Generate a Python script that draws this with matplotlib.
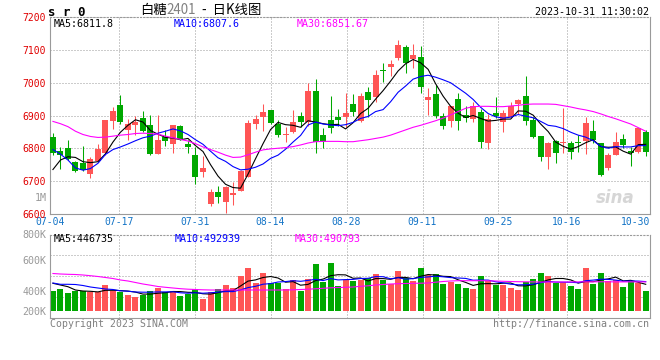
import numpy as np
import matplotlib.pyplot as plt

W, H = 660, 360
plt.rcParams['font.family'] = ['DejaVu Sans Mono', 'Noto Sans CJK SC']
CJK = ['Noto Sans CJK SC', 'DejaVu Sans']

# daily candles sr0, 2023-07-04 .. 2023-10-31
opens = [6833, 6791, 6800, 6758, 6756, 6721, 6761, 6784, 6884, 6932,
         6855, 6870, 6891, 6871, 6782, 6835, 6813, 6868, 6813, 6779,
         6728, 6630, 6666, 6636, 6657, 6669, 6713, 6873, 6896, 6916,
         6875, 6840, 6850, 6898, 6879, 6975, 6840, 6886, 6896, 6896,
         6935, 6884, 6973, 6957, 7039, 7047, 7077, 7110, 7072, 7080,
         6947, 6966, 6898, 6884, 6950, 6901, 6889, 6912, 6817, 6909,
         6879, 6894, 6935, 6960, 6886, 6837, 6774, 6823, 6815, 6815,
         6820, 6823, 6852, 6815, 6740, 6780, 6828, 6793, 6790, 6850]
highs = [6847, 6805, 6825, 6760, 6807, 6774, 6813, 6886, 6927, 6963,
         6888, 6897, 6913, 6901, 6901, 6855, 6871, 6871, 6825, 6805,
         6776, 6675, 6686, 6686, 6697, 6733, 6886, 6901, 6935, 6916,
         6886, 6865, 6916, 6911, 6998, 7011, 6863, 6960, 6919, 6969,
         6965, 6970, 6988, 7039, 7059, 7069, 7130, 7115, 7117, 7112,
         6983, 6993, 6907, 6930, 6968, 6929, 6942, 6920, 6905, 6957,
         6917, 6942, 6950, 7020, 6896, 6837, 6818, 6825, 6924, 6821,
         6840, 6896, 6886, 6816, 6787, 6851, 6845, 6805, 6862, 6855]
lows = [6779, 6736, 6765, 6727, 6732, 6710, 6759, 6779, 6860, 6874,
        6825, 6840, 6850, 6779, 6782, 6808, 6784, 6825, 6784, 6690,
        6711, 6624, 6633, 6601, 6626, 6669, 6713, 6858, 6853, 6875,
        6835, 6820, 6847, 6865, 6867, 6784, 6802, 6848, 6867, 6865,
        6899, 6881, 6894, 6942, 7003, 7021, 7069, 7031, 7044, 6970,
        6902, 6891, 6859, 6866, 6856, 6881, 6881, 6800, 6799, 6891,
        6851, 6891, 6906, 6871, 6830, 6762, 6738, 6754, 6784, 6766,
        6790, 6781, 6815, 6716, 6735, 6780, 6800, 6746, 6784, 6775]
closes = [6784, 6778, 6768, 6731, 6735, 6766, 6797, 6886, 6913, 6881,
          6874, 6881, 6853, 6782, 6825, 6823, 6871, 6827, 6804, 6713,
          6740, 6665, 6652, 6681, 6664, 6730, 6878, 6889, 6911, 6878,
          6840, 6842, 6881, 6881, 6975, 6820, 6820, 6863, 6886, 6908,
          6912, 6959, 6947, 7024, 7037, 7057, 7115, 7059, 7085, 6988,
          6957, 6898, 6869, 6929, 6884, 6891, 6929, 6820, 6889, 6898,
          6909, 6929, 6947, 6884, 6835, 6774, 6817, 6784, 6820, 6790,
          6815, 6878, 6825, 6718, 6780, 6820, 6810, 6784, 6861, 6790]

ma5 = [6735, 6764, 6774, 6772, 6759, 6756, 6759, 6783, 6819, 6849,
       6870, 6887, 6880, 6854, 6843, 6833, 6831, 6826, 6830, 6808,
       6790, 6750, 6715, 6690, 6680, 6678, 6721, 6768, 6814, 6857,
       6879, 6872, 6870, 6864, 6884, 6880, 6875, 6872, 6873, 6859,
       6878, 6906, 6922, 6950, 6976, 7005, 7036, 7058, 7071, 7061,
       7041, 6997, 6959, 6928, 6907, 6894, 6900, 6891, 6883, 6885,
       6889, 6889, 6914, 6913, 6901, 6874, 6851, 6819, 6806, 6797,
       6805, 6817, 6826, 6805, 6803, 6804, 6791, 6782, 6811, 6812]
ma10 = [6796, 6782, 6764, 6740, 6733, 6738, 6754, 6781, 6796, 6804,
        6813, 6823, 6832, 6837, 6846, 6852, 6859, 6853, 6842, 6826,
        6812, 6791, 6771, 6760, 6744, 6734, 6736, 6742, 6752, 6769,
        6779, 6797, 6819, 6839, 6871, 6880, 6874, 6871, 6869, 6872,
        6879, 6891, 6897, 6912, 6918, 6942, 6971, 6990, 7011, 7019,
        7023, 7017, 7009, 7000, 6984, 6968, 6949, 6925, 6906, 6896,
        6892, 6895, 6903, 6898, 6893, 6882, 6870, 6867, 6860, 6849,
        6840, 6834, 6823, 6806, 6800, 6805, 6804, 6804, 6808, 6808]
ma30 = [6882, 6875, 6866, 6852, 6842, 6836, 6833, 6834, 6837, 6840,
        6842, 6845, 6846, 6845, 6843, 6837, 6832, 6827, 6822, 6814,
        6804, 6796, 6788, 6779, 6772, 6773, 6780, 6788, 6795, 6798,
        6800, 6802, 6805, 6810, 6816, 6820, 6821, 6821, 6821, 6820,
        6820, 6823, 6826, 6830, 6834, 6840, 6848, 6856, 6864, 6870,
        6877, 6884, 6892, 6902, 6912, 6922, 6927, 6928, 6928, 6927,
        6927, 6929, 6931, 6934, 6935, 6935, 6935, 6934, 6930, 6926,
        6921, 6917, 6912, 6905, 6897, 6890, 6882, 6874, 6863, 6852]

# volume, thousands of lots
vol = [400, 420, 380, 400, 400, 387, 387, 460, 400, 387,
       360, 340, 360, 400, 430, 387, 400, 353, 367, 420,
       320, 387, 420, 460, 430, 553, 630, 480, 580, 480,
       480, 420, 510, 400, 520, 670, 493, 680, 450, 510,
       503, 507, 530, 570, 510, 470, 600, 530, 503, 630,
       560, 570, 470, 490, 470, 430, 420, 550, 500, 460,
       460, 430, 410, 493, 520, 580, 553, 480, 493, 450,
       420, 630, 470, 580, 503, 510, 440, 500, 483, 400]
vma5 = [477, 460, 443, 410, 400, 397, 391, 407, 407, 404,
        399, 389, 369, 369, 378, 383, 395, 394, 387, 385,
        372, 369, 383, 401, 403, 450, 499, 511, 535, 545,
        530, 488, 494, 458, 466, 504, 519, 553, 563, 561,
        527, 530, 500, 524, 524, 517, 536, 536, 523, 547,
        565, 559, 547, 544, 512, 486, 456, 472, 474, 472,
        478, 480, 452, 451, 463, 487, 511, 525, 525, 511,
        479, 495, 493, 510, 521, 539, 501, 507, 487, 467]
vma10 = [480, 467, 467, 465, 455, 440, 430, 420, 415, 402,
         398, 390, 388, 388, 391, 391, 392, 382, 378, 382,
         378, 382, 389, 394, 394, 411, 434, 447, 468, 474,
         490, 494, 503, 497, 506, 517, 504, 524, 511, 514,
         516, 525, 527, 544, 543, 522, 533, 518, 524, 536,
         541, 548, 542, 534, 530, 526, 508, 510, 509, 492,
         482, 468, 462, 463, 468, 483, 496, 489, 488, 487,
         483, 503, 509, 518, 516, 509, 498, 500, 499, 494]
vma30 = [575, 570, 567, 565, 560, 553, 545, 535, 525, 510,
         500, 485, 470, 458, 445, 437, 430, 423, 418, 415,
         412, 410, 410, 410, 410, 410, 410, 410, 410, 410,
         410, 410, 412, 415, 418, 422, 427, 432, 435, 437,
         440, 447, 452, 460, 465, 470, 473, 475, 477, 478,
         480, 488, 495, 500, 503, 503, 503, 503, 502, 500,
         497, 495, 493, 492, 491, 490, 490, 490, 490, 491,
         491, 492, 492, 492, 492, 491, 491, 491, 491, 491]

date_idx = [0, 9, 19, 29, 39, 49, 59, 68, 78]
date_lbl = ['07-04', '07-17', '07-31', '08-14', '08-28', '09-11', '09-25', '10-16', '10-30']
price_ticks = [6600, 6700, 6800, 6900, 7000, 7100, 7200]

RED, GREEN = '#ff5555', '#00a800'
GRID = dict(color='#9a9a9a', lw=0.72, ls=(0, (1, 2)))

x = np.arange(len(closes))
o, c, h, l = map(np.array, (opens, closes, highs, lows))
cols = np.where(c >= o, RED, GREEN)
v = np.array(vol) * 1000.0

fig = plt.figure(figsize=(W / 100, H / 100), dpi=100)


def box(left, top, right, bottom):
    return [left / W, 1 - bottom / H, (right - left) / W, (bottom - top) / H]


def ftext(px, py, s, **kw):
    return fig.text(px / W, 1 - py / H, s, **kw)


ax = fig.add_axes(box(49.7, 17.25, 650, 213.75))
axv = fig.add_axes(box(49.7, 234.5, 650, 318))

# grid positions drift a little against the candle spacing on sina charts
gpos = np.array(date_idx) * 1.0125 - 0.36

for a in (ax, axv):
    a.set_xlim(-0.43, 79.57)
    for s in a.spines.values():
        s.set_color('#9a9a9a')
        s.set_linewidth(0.8)
    a.spines['top'].set_linestyle((0, (1, 2)))
    for g in gpos[1:-1]:
        a.axvline(g, zorder=0, **GRID)
    a.tick_params(length=0)

# price panel
ax.vlines(x, l, h, colors=cols, lw=0.75, zorder=2)
ax.bar(x, np.maximum(np.abs(c - o), 2.5), bottom=np.minimum(o, c), width=0.8,
       color=cols, linewidth=0, zorder=3)
ax.plot(x, ma5, color='black', lw=0.8, zorder=4)
ax.plot(x, ma10, color='#0000ff', lw=0.8, zorder=4)
ax.plot(x, ma30, color='#ff00ff', lw=0.8, zorder=4)
ax.set_ylim(6600, 7200)
ax.set_yticks(price_ticks)
ax.yaxis.grid(True, **GRID)
ax.set_axisbelow(True)
ax.tick_params(axis='y', labelsize=7, labelcolor='#e00000', pad=2.5)
ax.set_xticks(np.minimum(gpos, 77.6))
ax.set_xticklabels(date_lbl)
ax.tick_params(axis='x', labelsize=7, labelcolor='#1273c6', pad=2.5)
ax.text(0.007, 0.965, 'MA5:6811.8', transform=ax.transAxes, fontsize=7.2, va='center')
ax.text(0.207, 0.965, 'MA10:6807.6', transform=ax.transAxes, fontsize=7.2,
        color='#0000ff', va='center')
ax.text(0.412, 0.965, 'MA30:6851.67', transform=ax.transAxes, fontsize=7.2,
        color='#ff00ff', va='center')
ax.text(0.975, 0.08, 'sina', transform=ax.transAxes, fontsize=12, color='#d6d6d6',
        style='italic', weight='bold', family='DejaVu Sans', ha='right', va='center')

# volume panel
axv.bar(x, v - 200e3, bottom=200e3, width=0.8, color=cols, linewidth=0, zorder=2)
axv.plot(x, np.array(vma5) * 1000, color='black', lw=0.8, zorder=3)
axv.plot(x, np.array(vma10) * 1000, color='#0000ff', lw=0.8, zorder=3)
axv.plot(x, np.array(vma30) * 1000, color='#ff00ff', lw=0.8, zorder=3)
vlo, vhi = 130e3, 965e3
axv.set_ylim(vlo, vhi)
for f in (0.25, 0.5, 0.75):
    axv.axhline(vlo + f * (vhi - vlo), zorder=0, **GRID)
axv.set_yticks([200e3, 400e3, 710e3, 965e3])
axv.set_yticklabels(['200K', '400K', '600K', '800K'])
axv.tick_params(axis='y', labelsize=7.2, labelcolor='#999999', pad=2.5)
axv.set_xticks([])
axv.text(0.007, 0.945, 'MA5:446735', transform=axv.transAxes, fontsize=7.2, va='center')
axv.text(0.208, 0.945, 'MA10:492939', transform=axv.transAxes, fontsize=7.2,
         color='#0000ff', va='center')
axv.text(0.408, 0.945, 'MA30:490793', transform=axv.transAxes, fontsize=7.2,
         color='#ff00ff', va='center')

# header and footer
ftext(48, 12, 's r 0', fontsize=9, weight='bold', va='center')
t1 = ftext(140, 10, '白糖', fontsize=9.6, family=CJK, va='center')
t2 = ax.annotate('2401', xy=(1, 0.5), xycoords=t1, fontsize=9.6, family=CJK,
                 color='#808080', va='center')
ax.annotate('  -  日K线图', xy=(1, 0.5), xycoords=t2, fontsize=9.6, family=CJK,
            va='center')
ftext(649, 12, '2023-10-31 11:30:02', fontsize=7.2, ha='right', va='center')
ftext(47, 198, '1M', fontsize=7.2, color='#999999', ha='right', va='center')
ftext(50, 324, 'Copyright 2023 SINA.COM', fontsize=7.1, color='#808080', va='center')
ftext(649, 324, 'http://finance.sina.com.cn', fontsize=7.2, color='#808080',
      ha='right', va='center')

fig.savefig('out.png', dpi=100, facecolor='white')
